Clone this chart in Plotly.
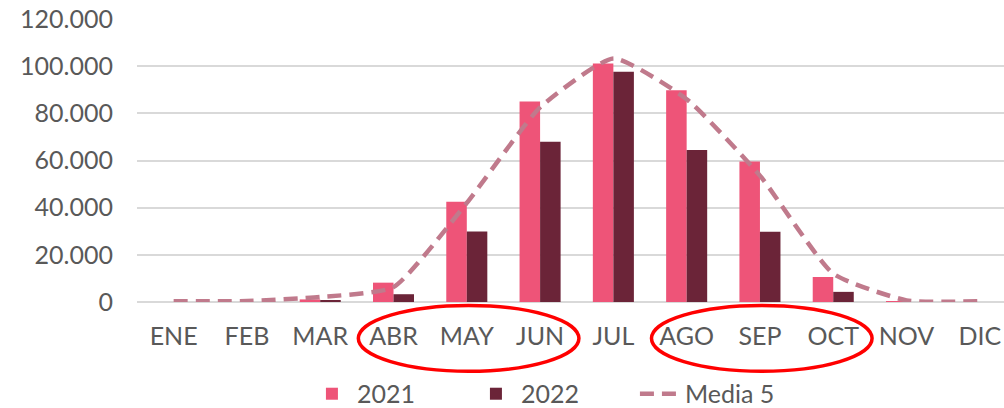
import plotly.graph_objects as go

months = ["ENE", "FEB", "MAR", "ABR", "MAY", "JUN", "JUL", "AGO", "SEP", "OCT", "NOV", "DIC"]
values_2021 = [0, 0, 1100, 8200, 42500, 85000, 101100, 89800, 59600, 10600, 400, 0]
values_2022 = [0, 0, 700, 3300, 29900, 68000, 97600, 64400, 29800, 4300, 0, 0]
media_5 = [300, 400, 2100, 6300, 42000, 82500, 103300, 86000, 53600, 12000, 700, 300]
y_ticks = [0, 20000, 40000, 60000, 80000, 100000, 120000]
y_tick_labels = ["0", "20.000", "40.000", "60.000", "80.000", "100.000", "120.000"]
# highlighted month groups (first and last month index of each ellipse)
highlight_groups = [("ABR", "JUN"), ("AGO", "OCT")]

FONT = "Lato"
TXT = "#595959"

fig = go.Figure()
fig.add_trace(go.Bar(x=months, y=values_2021, name="2021", marker=dict(color="#EE5478", line=dict(width=0))))
fig.add_trace(go.Bar(x=months, y=values_2022, name="2022", marker=dict(color="#6B2438", line=dict(width=0))))
fig.add_trace(go.Scatter(x=months, y=media_5, name="Media 5", mode="lines",
                         line=dict(color="#C07A8C", width=4.5, dash="14px,8px", shape="spline", smoothing=0.5)))

for a, b in highlight_groups:
    i0 = months.index(a)
    i1 = months.index(b)
    fig.add_shape(type="circle", xref="x", yref="paper",
                  x0=i0 - 0.48, x1=i1 + 0.53, y0=-0.245, y1=-0.012,
                  line=dict(color="#FF0000", width=3.5), fillcolor="rgba(0,0,0,0)")

fig.update_layout(
    width=1004, height=408,
    margin=dict(l=137, r=0, t=19, b=106, autoexpand=False),
    paper_bgcolor="white", plot_bgcolor="white",
    barmode="group", bargap=0.44, bargroupgap=0,
    font=dict(family=FONT, size=25, color=TXT),
    showlegend=True,
    legend=dict(orientation="h", x=0.196, xanchor="left", y=-0.325, yanchor="middle",
                font=dict(family=FONT, size=25, color=TXT), itemwidth=40, traceorder="normal",
                entrywidth=109, entrywidthmode="pixels",
                bgcolor="rgba(0,0,0,0)"),
)
fig.update_xaxes(type="category", range=[-0.5, 11.33], showgrid=False, showline=False, zeroline=False,
                 automargin=False,
                 ticks="outside", ticklen=12, tickcolor="rgba(0,0,0,0)",
                 tickfont=dict(family=FONT, size=25, color=TXT))
fig.update_yaxes(range=[0, 120000], tickvals=y_ticks, ticktext=y_tick_labels,
                 automargin=False,
                 showgrid=True, gridcolor="#D9D9D9", gridwidth=1.5,
                 zeroline=True, zerolinecolor="#D9D9D9", zerolinewidth=1.5, showline=False,
                 ticks="outside", ticklen=18, tickcolor="rgba(0,0,0,0)",
                 tickfont=dict(family=FONT, size=25, color=TXT))

fig.write_html("out.html", config={"displayModeBar": False},
               post_script="document.body.style.margin='0';document.body.style.overflow='hidden';")
